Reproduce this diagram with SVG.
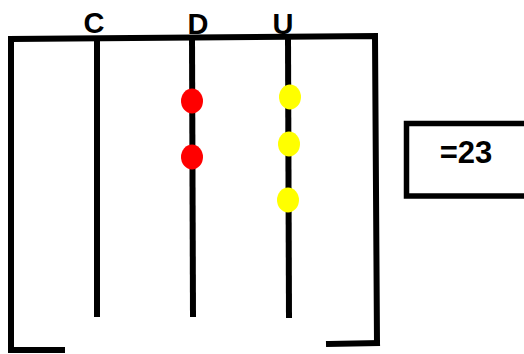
<svg xmlns="http://www.w3.org/2000/svg" width="524" height="354" viewBox="0 0 524 354">
<style>
.ln{stroke:#000;stroke-width:6;fill:none;stroke-linecap:square}
.rod{stroke:#000;stroke-width:6;fill:none}
.lbl{font-family:"Liberation Sans",Arial,sans-serif;font-weight:bold;font-size:29px;fill:#000;text-anchor:middle}
.red{fill:#ff0000}
.yel{fill:#ffff00}
</style>
<rect width="524" height="354" fill="#fff"/>
<g id="labels">
<text class="lbl" x="94" y="33">C</text>
<text class="lbl" x="198" y="34">D</text>
<text class="lbl" x="283" y="34">U</text>
</g>
<g id="connectors">
<polyline class="ln" points="11,350 11,39 375,36 377,343"/>
<line class="ln" x1="11" y1="350" x2="62" y2="350"/>
<line class="ln" x1="329" y1="344" x2="377" y2="343"/>
<line class="rod" x1="97" y1="38" x2="97" y2="317"/>
<line class="rod" x1="192" y1="37" x2="193" y2="317"/>
<line class="rod" x1="288" y1="37" x2="289" y2="318"/>
</g>
<g id="beads-D">
<ellipse class="red" cx="192" cy="101" rx="11" ry="12.5"/>
<ellipse class="red" cx="192" cy="157" rx="11" ry="12.5"/>
</g>
<g id="beads-U">
<ellipse class="yel" cx="290" cy="97" rx="11" ry="12.5"/>
<ellipse class="yel" cx="289" cy="144" rx="11" ry="12.5"/>
<ellipse class="yel" cx="288" cy="200" rx="11" ry="12.5"/>
</g>
<g id="result">
<rect x="406.5" y="123.5" width="122" height="72.5" fill="none" stroke="#000" stroke-width="5.5"/>
<text x="466" y="163" text-anchor="middle" font-family="Liberation Sans,Arial,sans-serif" font-weight="bold" font-size="31">=23</text>
</g>
</svg>
